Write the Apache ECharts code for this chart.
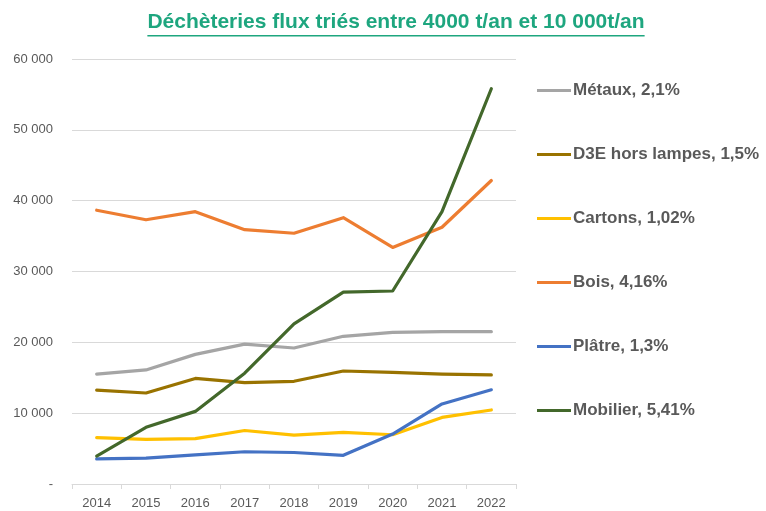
<!DOCTYPE html>
<html>
<head>
<meta charset="utf-8">
<script src="https://cdn.jsdelivr.net/npm/echarts@6/dist/echarts.min.js"></script>
<style>
  html, body { margin: 0; padding: 0; background: #fff; }
  #chart { width: 766px; height: 511px; }
</style>
</head>
<body>
<div id="chart"></div>
<script>
// Tonnages collectés par flux trié, 2014–2022
const years = ['2014', '2015', '2016', '2017', '2018', '2019', '2020', '2021', '2022'];
const metaux   = [15500, 16100, 18300, 19750, 19200, 20850, 21400, 21500, 21500];
const d3e      = [13250, 12850, 14900, 14300, 14500, 15950, 15750, 15500, 15400];
const cartons  = [6550, 6300, 6400, 7550, 6900, 7300, 6950, 9400, 10450];
const bois     = [38650, 37300, 38450, 35900, 35400, 37600, 33400, 36250, 42850];
const platre   = [3550, 3650, 4100, 4550, 4450, 4050, 7050, 11300, 13300];
const mobilier = [3950, 8000, 10250, 15650, 22600, 27100, 27250, 38450, 55800];

const seriesNames = ['Métaux, 2,1%', 'D3E hors lampes, 1,5%', 'Cartons, 1,02%', 'Bois, 4,16%', 'Plâtre, 1,3%', 'Mobilier, 5,41%'];
const seriesData = [metaux, d3e, cartons, bois, platre, mobilier];
const colors = ['#a5a5a5', '#997300', '#ffc000', '#ed7d31', '#4472c4', '#43682b'];

const titleText = 'Déchèteries flux triés entre 4000 t/an et 10 000t/an';
const titleFont = 'bold 21px "Liberation Sans", Arial, sans-serif';

// measure the title so the underline follows its width
const ctx = document.createElement('canvas').getContext('2d');
ctx.font = titleFont;
const titleW = ctx.measureText(titleText).width;
const titleCx = 396;

const chart = echarts.init(document.getElementById('chart'), null, { renderer: 'canvas' });

function fmt(v) {
  if (v === 0) return '-';
  return String(v).replace(/\B(?=(\d{3})+(?!\d))/g, ' ');
}

chart.setOption({
  animation: false,
  backgroundColor: '#fff',
  color: colors,
  graphic: [
    {
      type: 'text',
      left: titleCx - titleW / 2,
      top: 12,
      style: {
        text: titleText,
        font: titleFont,
        fill: '#1ea67f'
      }
    },
    {
      type: 'rect',
      left: titleCx - titleW / 2,
      top: 35,
      shape: { width: titleW, height: 1.5 },
      style: { fill: '#1ea67f' }
    }
  ],
  grid: { left: 72, right: 250, top: 59, bottom: 27, containLabel: false },
  legend: {
    orient: 'vertical',
    left: 537,
    top: 82,
    padding: 0,
    itemWidth: 34,
    itemHeight: 16,
    itemGap: 47,
    icon: 'path://M0,6.5 L34,6.5 L34,9.5 L0,9.5 Z',
    textStyle: {
      fontFamily: '"Liberation Sans", Arial, sans-serif',
      fontSize: 17,
      fontWeight: 'bold',
      color: '#595959',
      lineHeight: 16,
      padding: [0, 0, 0, -3]
    },
    data: seriesNames
  },
  xAxis: {
    type: 'category',
    data: years,
    boundaryGap: true,
    axisLine: { lineStyle: { color: '#d9d9d9', width: 1 } },
    axisTick: { show: true, length: 5, lineStyle: { color: '#d9d9d9' } },
    axisLabel: {
      color: '#595959',
      fontSize: 13,
      fontFamily: '"Liberation Sans", Arial, sans-serif',
      margin: 13
    }
  },
  yAxis: {
    type: 'value',
    min: 0,
    max: 60000,
    interval: 10000,
    axisLine: { show: false },
    axisTick: { show: false },
    splitLine: { lineStyle: { color: '#d9d9d9', width: 1 } },
    axisLabel: {
      color: '#595959',
      fontSize: 13,
      fontFamily: '"Liberation Sans", Arial, sans-serif',
      margin: 19,
      formatter: fmt
    }
  },
  series: seriesNames.map((name, i) => ({
    name: name,
    type: 'line',
    data: seriesData[i],
    symbol: 'none',
    lineStyle: { width: 3.2, color: colors[i], cap: 'round', join: 'round' },
    itemStyle: { color: colors[i] }
  }))
});
</script>
</body>
</html>
